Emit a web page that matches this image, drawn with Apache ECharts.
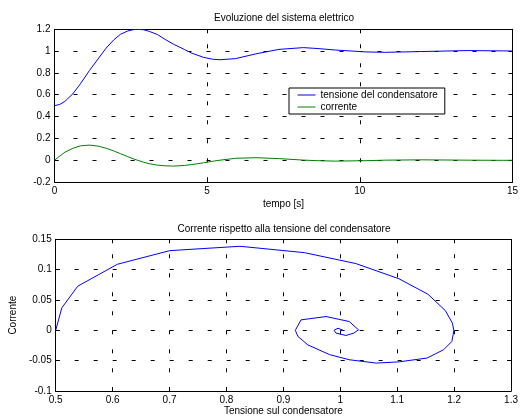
<!DOCTYPE html>
<html>
<head>
<meta charset="utf-8">
<script src="https://cdn.jsdelivr.net/npm/echarts@6/dist/echarts.min.js"></script>
<style>html,body{margin:0;padding:0;background:#fff}#c{width:521px;height:417px}</style>
</head>
<body>
<div id="c"></div>
<script>
// Sample times [s]
var tempo = [0, 0.17, 0.34, 0.6, 0.85, 1.15, 1.45, 1.69, 1.94, 2.16, 2.4, 2.59, 2.72, 2.92, 3.1, 3.37, 3.65, 3.9, 4.25, 4.5, 4.88, 5.18, 5.42, 5.93, 6.6, 7.35, 8.15, 8.6, 9.2, 10.2, 10.84, 12.0, 13.55, 14.7, 15];
// Capacitor voltage
var tensione = [0.5, 0.5108, 0.5387, 0.6085, 0.7004, 0.8237, 0.937, 1.0274, 1.103, 1.154, 1.1845, 1.197, 1.1995, 1.196, 1.1815, 1.1524, 1.103, 1.063, 1.0157, 0.981, 0.943, 0.9255, 0.921, 0.931, 0.975, 1.0157, 1.032, 1.024, 1.01, 0.9925, 0.989, 0.996, 1.005, 1.002, 1.001];
// Current
var corrente = [0, 0.037, 0.0727, 0.1089, 0.1313, 0.1385, 0.128, 0.110, 0.085, 0.0595, 0.0326, 0.0118, -0.001, -0.0184, -0.032, -0.0457, -0.052, -0.054, -0.0485, -0.040, -0.024, -0.010, 0.0, 0.0172, 0.0227, 0.0145, 0.0008, -0.0045, -0.0085, -0.0045, 0, 0.0034, 0, -0.0014, -0.0006];

var titolo1 = 'Evoluzione del sistema elettrico';
var titolo2 = 'Corrente rispetto alla tensione del condensatore';
var nomeSerie = ['tensione del condensatore', 'corrente'];

var FONT = "'Liberation Sans', Arial, sans-serif";
var chart = echarts.init(document.getElementById('c'), null, {renderer: 'canvas'});

var gridLineH = {show: true, lineStyle: {color: '#000', width: 1, type: [4, 15]}};
var gridLineV = {show: true, lineStyle: {color: '#000', width: 1, type: [4, 15], dashOffset: 4}};
var tick = {show: true, inside: true, length: 4, lineStyle: {color: '#000', width: 1}};
var lbl = {color: '#000', fontSize: 10, fontFamily: FONT, margin: 4};
var nameStyle = {color: '#000', fontSize: 10, fontFamily: FONT};

function mainX(g, min, max, itv, name, gap) {
  return {type: 'value', gridIndex: g, min: min, max: max, interval: itv, position: 'bottom',
    axisLine: {show: true, onZero: false, lineStyle: {color: '#000'}}, axisTick: tick, axisLabel: lbl,
    splitLine: gridLineV, name: name, nameLocation: 'middle', nameGap: gap, nameTextStyle: nameStyle};
}
function mirrorX(g, min, max, itv) {
  return {type: 'value', gridIndex: g, min: min, max: max, interval: itv, position: 'top',
    axisLine: {show: true, onZero: false, lineStyle: {color: '#000'}}, axisTick: tick, axisLabel: {show: false}, splitLine: {show: false}};
}
function mainY(g, min, max, itv, name, gap) {
  return {type: 'value', gridIndex: g, min: min, max: max, interval: itv, position: 'left',
    axisLine: {show: true, onZero: false, lineStyle: {color: '#000'}}, axisTick: tick, axisLabel: lbl,
    splitLine: gridLineH, name: name, nameLocation: 'middle', nameGap: gap, nameTextStyle: nameStyle};
}
function mirrorY(g, min, max, itv) {
  return {type: 'value', gridIndex: g, min: min, max: max, interval: itv, position: 'right',
    axisLine: {show: true, onZero: false, lineStyle: {color: '#000'}}, axisTick: tick, axisLabel: {show: false}, splitLine: {show: false}};
}

var option = {
  backgroundColor: '#fff',
  animation: false,
  textStyle: {fontFamily: FONT},
  title: [
    {text: titolo1, left: 284, top: 13, padding: 0, textAlign: 'center',
     textStyle: {fontSize: 10, fontWeight: 'normal', color: '#000', fontFamily: FONT}},
    {text: titolo2, left: 284, top: 224, padding: 0, textAlign: 'center',
     textStyle: {fontSize: 10, fontWeight: 'normal', color: '#000', fontFamily: FONT}}
  ],
  legend: {
    data: nomeSerie, orient: 'vertical', left: 289, top: 88,
    backgroundColor: '#fff', borderColor: '#000', borderWidth: 1, borderRadius: 0,
    padding: [2, 7, 2, 8], itemWidth: 18, itemHeight: 10, itemGap: 2,
    itemStyle: {opacity: 0},
    lineStyle: {width: 1},
    textStyle: {fontSize: 10, color: '#000', fontFamily: FONT}
  },
  grid: [
    {left: 54.5, top: 29.3, width: 458.5, height: 152.7, show: true, backgroundColor: '#fff', borderColor: '#000', borderWidth: 0},
    {left: 54.5, top: 239.3, width: 458.5, height: 152, show: true, backgroundColor: '#fff', borderColor: '#000', borderWidth: 0}
  ],
  xAxis: [
    mainX(0, 0, 15, 5, 'tempo [s]', 17),
    mirrorX(0, 0, 15, 5),
    mainX(1, 0.5, 1.3, 0.1, 'Tensione sul condensatore', 15),
    mirrorX(1, 0.5, 1.3, 0.1)
  ],
  yAxis: [
    mainY(0, -0.2, 1.2, 0.2, '', 0),
    mirrorY(0, -0.2, 1.2, 0.2),
    mainY(1, -0.1, 0.15, 0.05, 'Corrente', 29),
    mirrorY(1, -0.1, 0.15, 0.05)
  ],
  series: [
    {name: nomeSerie[0], type: 'line', xAxisIndex: 0, yAxisIndex: 0, symbol: 'none', smooth: false,
     color: '#0000ff', lineStyle: {color: '#0000ff', width: 1},
     data: tempo.map(function (x, k) { return [x, tensione[k]]; })},
    {name: nomeSerie[1], type: 'line', xAxisIndex: 0, yAxisIndex: 0, symbol: 'none', smooth: false,
     color: '#008000', lineStyle: {color: '#008000', width: 1},
     data: tempo.map(function (x, k) { return [x, corrente[k]]; })},
    {name: 'fase', type: 'line', xAxisIndex: 2, yAxisIndex: 2, symbol: 'none', smooth: false,
     color: '#0000ff', lineStyle: {color: '#0000ff', width: 1},
     data: tensione.map(function (x, k) { return [x, corrente[k]]; })}
  ]
};
chart.setOption(option);
</script>
</body>
</html>
